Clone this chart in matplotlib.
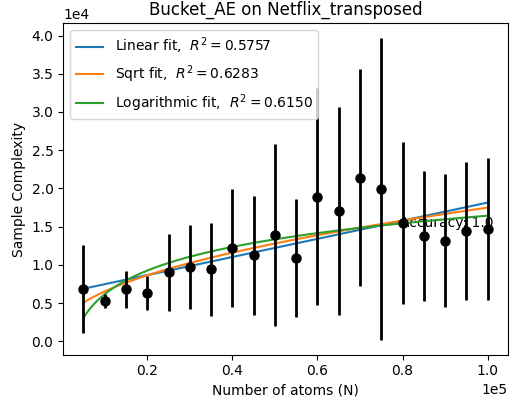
import numpy as np
import matplotlib
matplotlib.use("Agg")
import matplotlib.pyplot as plt

atoms = [5000, 10000, 15000, 20000, 25000, 30000, 35000, 40000, 45000, 50000,
         55000, 60000, 65000, 70000, 75000, 80000, 85000, 90000, 95000, 100000]
mean_sc = [6780, 5240, 6780, 6330, 9000, 9660, 9400, 12230, 11270, 13890,
           10880, 18910, 17040, 21400, 19920, 15470, 13760, 13150, 14420, 14640]
std_sc = [5760, 920, 2400, 2200, 5030, 5500, 6100, 7700, 7800, 11900,
          7700, 14200, 13600, 14200, 19700, 10600, 8500, 8700, 9000, 9300]
r2_labels = ["Linear fit,  $R^2 = 0.5757$", "Sqrt fit,  $R^2 = 0.6283$",
             "Logarithmic fit,  $R^2 = 0.6150$"]

x = np.array(atoms, dtype=float)
y = np.array(mean_sc, dtype=float)
xs = np.linspace(x.min(), x.max(), 300)

fig, ax = plt.subplots(figsize=(5.14, 4.03), dpi=100)
fig.subplots_adjust(left=0.123, right=0.988, top=0.942, bottom=0.12)

ax.errorbar(x, y, yerr=std_sc, fmt='o', color='black', ms=6.5, elinewidth=2, zorder=3)

# Linear
p = np.polyfit(x, y, 1)
ax.plot(xs, np.polyval(p, xs), color='#1f77b4', label=r2_labels[0])
# Sqrt
A = np.vstack([np.sqrt(x), np.ones_like(x)]).T
c = np.linalg.lstsq(A, y, rcond=None)[0]
ax.plot(xs, c[0] * np.sqrt(xs) + c[1], color='#ff7f0e', label=r2_labels[1])
# Log
B = np.vstack([np.log(x), np.ones_like(x)]).T
d = np.linalg.lstsq(B, y, rcond=None)[0]
ax.plot(xs, d[0] * np.log(xs) + d[1], color='#2ca02c', label=r2_labels[2])

ax.text(79500, 15470, "Accuracy: 1.0", va='center', ha='left', fontsize=10, zorder=1)

ax.set_title("Bucket_AE on Netflix_transposed")
ax.set_xlabel("Number of atoms (N)")
ax.set_ylabel("Sample Complexity")
ax.ticklabel_format(style='sci', axis='both', scilimits=(0, 0))
ax.legend(loc='upper left')

fig.savefig("out.png", dpi=100)
